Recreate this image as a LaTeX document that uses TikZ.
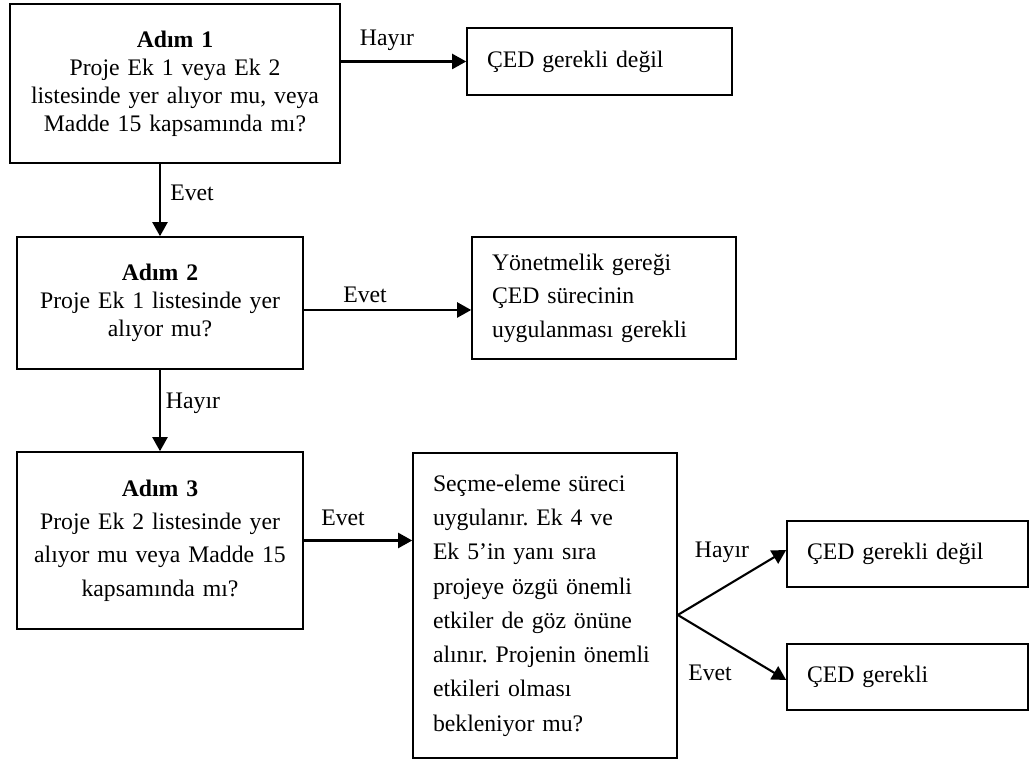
\documentclass[tikz,border=0pt]{standalone}
\usepackage{fontspec}
\setmainfont{Liberation Serif}
\usetikzlibrary{arrows.meta,calc}
\frenchspacing

\begin{document}
\begin{tikzpicture}[
		kutu/.style={draw, line width=0.9pt, inner sep=0pt, align=center},
		solkutu/.style={draw, line width=0.9pt, inner ysep=0pt, inner xsep=0.4cm, align=left},
		ok/.style={line width=1.2pt, -{Triangle[length=0.28cm,width=0.3cm]}},
		etiket/.style={inner sep=1pt},
		every node/.style={font=\fontsize{13.5}{16}\selectfont}
	]
				\useasboundingbox (0,0) rectangle (20.6,15.28);
				
				\node[kutu, text width=6.6cm, minimum height=3.18cm] (adim1) at (3.5,13.61) {\textbf{Adım 1}\\Proje Ek 1 veya Ek 2\\listesinde yer alıyor mu, veya\\Madde 15 kapsamında mı?};
				\node[solkutu, text width=4.5cm, minimum height=1.34cm] (degil1) at (11.99,14.05) {ÇED gerekli değil};
				
				\node[kutu, text width=5.72cm, minimum height=2.64cm] (adim2) at (3.2,9.22) {\textbf{Adım 2}\\Proje Ek 1 listesinde yer\\alıyor mu?};
				\node[solkutu, text width=4.48cm, minimum height=2.44cm, font=\fontsize{13.5}{19}\selectfont] (yonetmelik) at (12.08,9.32) {Yönetmelik gereği\\ÇED sürecinin\\uygulanması gerekli};
				
				\node[kutu, text width=5.72cm, minimum height=3.54cm, font=\fontsize{13.5}{19}\selectfont] (adim3) at (3.2,4.47) {\textbf{Adım 3}\\Proje Ek 2 listesinde yer\\alıyor mu veya Madde 15\\kapsamında mı?};
				\node[solkutu, text width=4.48cm, minimum height=6.1cm, font=\fontsize{13.5}{19.5}\selectfont] (secme) at (10.9,3.17) {Seçme-eleme süreci\\uygulanır. Ek 4 ve\\Ek 5’in yanı sıra\\projeye özgü önemli\\etkiler de göz önüne\\alınır. Projenin önemli\\etkileri olması\\bekleniyor mu?};
				
				\node[solkutu, text width=4.02cm, minimum height=1.32cm] (degil2) at (18.15,4.2) {ÇED gerekli değil};
				\node[solkutu, text width=4.02cm, minimum height=1.32cm] (gerekli) at (18.15,1.74) {ÇED gerekli};
				
				\coordinate (cikis2) at ([yshift=-0.14cm]adim2.east);
				\coordinate (ayrim) at ([yshift=-0.19cm]secme.east);
				
				\draw[ok] (adim1.east |- degil1.west) -- (degil1.west);
				\draw[ok] (adim1.south -| adim2.north) -- (adim2.north);
				\draw[ok] (cikis2) -- (cikis2 -| yonetmelik.west);
				\draw[ok] (adim2.south) -- (adim3.north);
				\draw[ok] (adim3.east) -- (adim3.east -| secme.west);
				\draw[ok] (ayrim) -- ([yshift=0.08cm]degil2.west);
				\draw[ok] (ayrim) -- ([yshift=-0.06cm]gerekli.west);
				
				\node[etiket] (hayir1) at (7.74,14.48) {Hayır};
				\node[etiket] (evet1) at (3.84,11.42) {Evet};
				\node[etiket] (evet2) at (7.3,9.38) {Evet};
				\node[etiket] (hayir2) at (3.86,7.22) {Hayır};
				\node[etiket] (evet3) at (6.86,4.92) {Evet};
				\node[etiket] (hayir3) at (14.44,4.24) {Hayır};
				\node[etiket] (evet4) at (14.2,1.82) {Evet};
			\end{tikzpicture}
\end{document}
